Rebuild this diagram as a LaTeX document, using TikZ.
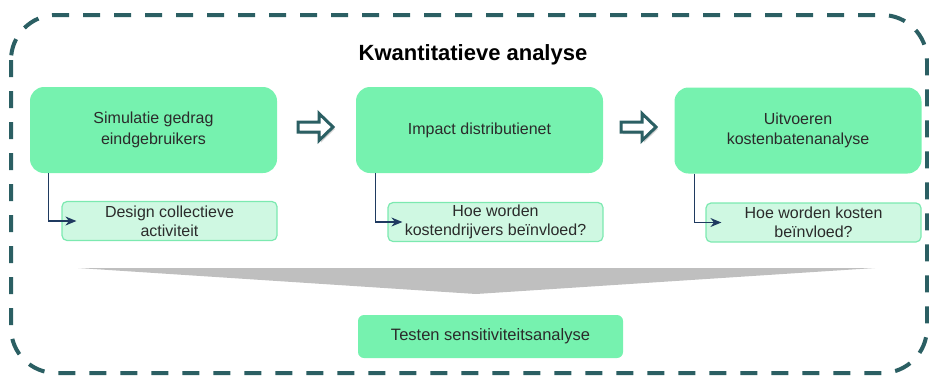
\documentclass[tikz,border=0pt]{standalone}
\usepackage{fontspec}
\setmainfont{Liberation Sans}
\usetikzlibrary{arrows.meta,shadows}

\definecolor{kader}{HTML}{2B5F63}
\definecolor{groen}{HTML}{76F2AF}
\definecolor{lichtgroen}{HTML}{CFF8E2}
\definecolor{randgroen}{HTML}{7CE9B0}
\definecolor{navy}{HTML}{1F3A60}
\definecolor{tekst}{HTML}{2B2B2B}
\definecolor{trechter}{HTML}{BFBFBF}

\tikzset{
  stapbox/.style={fill=groen, rounded corners=14pt, text=tekst, align=center,
    minimum width=247pt, minimum height=86pt, inner sep=0pt,
    font=\fontsize{16}{20.5}\selectfont},
  subbox/.style={fill=lichtgroen, draw=randgroen, line width=1.2pt, rounded corners=5pt,
    text=tekst, align=center, minimum width=215pt, minimum height=39pt, inner sep=0pt,
    font=\fontsize{16}{19}\selectfont},
  pijlblok/.style={draw=kader, line width=3pt, fill=white, line join=miter,
    drop shadow={opacity=0.35, shadow xshift=2pt, shadow yshift=-2pt}},
  verbinding/.style={draw=navy, line width=1.3pt, -{Stealth[length=11pt,width=9pt]}}
}

\begin{document}
\begin{tikzpicture}[x=1pt,y=-1pt]
    \useasboundingbox (0,0) rectangle (929,376);
    % kader
    \draw[kader, line width=4pt, dash pattern=on 17pt off 14pt, rounded corners=45pt]
      (11,15) rectangle (927,373);
    \node[font=\fontsize{22}{24}\selectfont\bfseries, text=black] (titel) at (473,55) {Kwantitatieve analyse};

    \node[stapbox] (sim) at (153.5,130) {Simulatie gedrag\\eindgebruikers};
    \node[stapbox] (imp) at (479.5,130) {Impact distributienet};
    \node[stapbox] (uit) at (798,130.5) {Uitvoeren\\kostenbatenanalyse};

    \node[subbox] (des) at (169.5,221) {Design collectieve\\activiteit};
    \node[subbox] (hoe1) at (495.5,222) {Hoe worden\\kostendrijvers beïnvloed?};
    \node[subbox] (hoe2) at (813.5,222.5) {Hoe worden kosten\\beïnvloed?};

    \draw[verbinding] ([xshift=19pt]sim.south west) |- ([xshift=15pt]des.west);
    \draw[verbinding] ([xshift=20pt]imp.south west) |- ([xshift=15pt]hoe1.west);
    \draw[verbinding] ([xshift=20pt]uit.south west) |- ([xshift=16pt]hoe2.west);

    % pijlen tussen de stappen
    \foreach \x in {298,621} {
      \draw[pijlblok] (\x,122)--(\x+21,122)--(\x+21,113.5)--(\x+35,127)--(\x+21,140.5)--(\x+21,132)--(\x,132)--cycle;
    }

    \fill[trechter] (78,268)--(875,268)--(476,294)--cycle;

    \node[fill=groen, rounded corners=6pt, minimum width=265pt, minimum height=43pt, inner sep=0pt,
      text=tekst, font=\fontsize{16.5}{19}\selectfont] (test) at (490.5,336.5) {Testen sensitiviteitsanalyse};
\end{tikzpicture}
\end{document}
